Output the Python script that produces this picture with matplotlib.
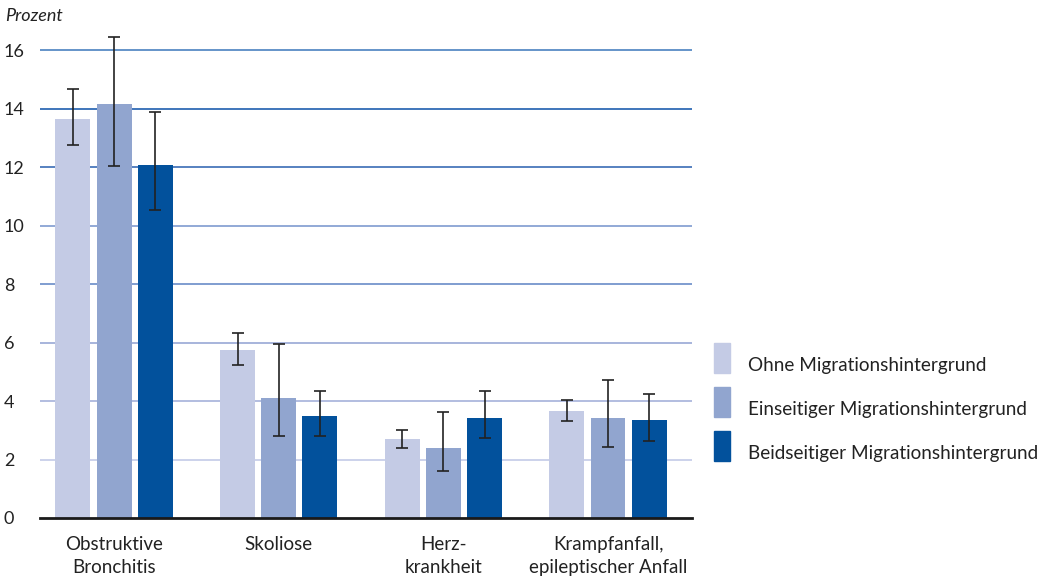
import numpy as np
import matplotlib
matplotlib.use("Agg")
from matplotlib import pyplot as plt
from matplotlib.patches import Rectangle

plt.rcParams['font.family'] = ['Lato', 'DejaVu Sans']

kategorien = ["Obstruktive\nBronchitis", "Skoliose", "Herz-\nkrankheit", "Krampfanfall,\nepileptischer Anfall"]
serien = ["Ohne Migrationshintergrund", "Einseitiger Migrationshintergrund", "Beidseitiger Migrationshintergrund"]
farben = ["#c4cbe5", "#91a5cf", "#02519c"]

werte = [
    [13.65, 5.73, 2.70, 3.65],
    [14.15, 4.12, 2.39, 3.41],
    [12.08, 3.48, 3.41, 3.34],
]
fehler_unten = [
    [12.76, 5.23, 2.41, 3.31],
    [12.05, 2.81, 1.60, 2.42],
    [10.55, 2.81, 2.72, 2.63],
]
fehler_oben = [
    [14.67, 6.32, 3.01, 4.03],
    [16.45, 5.94, 3.62, 4.72],
    [13.88, 4.33, 4.35, 4.23],
]

yticks = [0, 2, 4, 6, 8, 10, 12, 14, 16]
gitter_farben = ["#c3cbe7", "#a6b2da", "#98a8d6", "#6a8cc8", "#7f9bd0", "#3a6cb5", "#1f5faf", "#4a82c0"]

fig = plt.figure(figsize=(10.49, 5.76), dpi=100)
ax = fig.add_axes([40 / 1049, 1 - 518 / 576, 652 / 1049, 497 / 576])

x = np.arange(len(kategorien))
breite = 0.212
schritt = 0.25

for y, c in zip(yticks[1:], gitter_farben):
    ax.axhline(y, color=c, linewidth=1.2, zorder=0)

for i, name in enumerate(serien):
    pos = x + (i - 1) * schritt
    w = np.array(werte[i])
    lo = w - np.array(fehler_unten[i])
    hi = np.array(fehler_oben[i]) - w
    ax.bar(pos, w, width=breite, color=farben[i], zorder=2)
    ax.errorbar(pos, w, yerr=[lo, hi], fmt="none", ecolor="#222222",
                elinewidth=1.2, capsize=4, capthick=1.2, zorder=3)

ax.set_xlim(-0.45, 3.51)
ax.set_ylim(0, 17)
ax.set_xticks(x)
ax.set_xticklabels(kategorien, fontsize=13.5, color="#222222", linespacing=1.4)
ax.set_yticks(yticks)
ax.set_yticklabels([str(t) for t in yticks], fontsize=13, color="#222222")
for lbl in ax.get_yticklabels():
    lbl.set_horizontalalignment("left")
ax.tick_params(axis="y", length=0, pad=26)
ax.tick_params(axis="x", length=0, pad=13)
for s in ["top", "right", "left"]:
    ax.spines[s].set_visible(False)
ax.spines["bottom"].set_color("#1a1a1a")
ax.spines["bottom"].set_linewidth(2)

fig.text(5 / 1049, 1 - 16 / 576, "Prozent", fontsize=13, style="italic",
         color="#222222", va="center", ha="left")

# Legende
for i, name in enumerate(serien):
    top = 343 + i * 44
    fig.patches.append(Rectangle((714 / 1049, 1 - (top + 30) / 576), 16 / 1049, 30 / 576,
                                 transform=fig.transFigure, color=farben[i]))
    fig.text(748 / 1049, 1 - (top + 22) / 576, name, fontsize=13.6, color="#222222",
             va="center", ha="left")

fig.savefig("out.png", dpi=100)
